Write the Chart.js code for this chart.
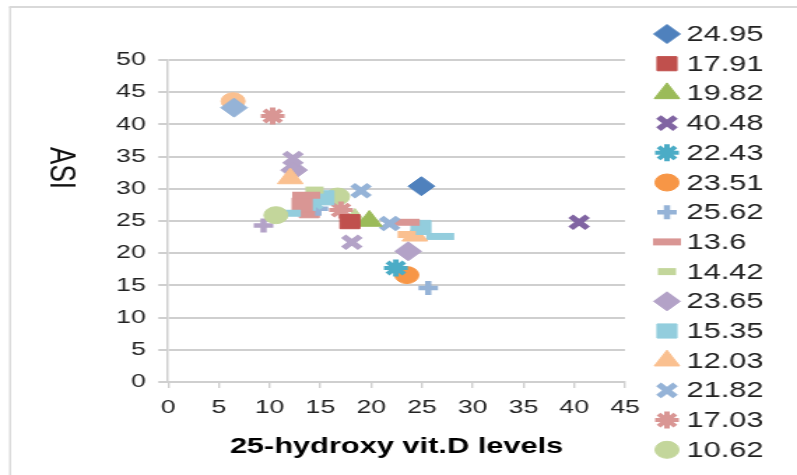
<!DOCTYPE html>
<html><head><meta charset="utf-8">
<script src="https://cdn.jsdelivr.net/npm/chart.js@4.4.1/dist/chart.umd.min.js"></script>
<style>
html,body{margin:0;padding:0;background:#fff;overflow:hidden;width:797px;height:475px;}
#wrap{position:absolute;left:0;top:0;width:570px;height:475px;transform:scaleX(1.39825);transform-origin:0 0;}
</style></head><body>
<div id="wrap"><canvas id="c"></canvas></div>
<script>
// Series numbers (Excel series order), their names, and their single (x, y) point
const seriesNo = [1,2,3,4,5,6,7,8,9,10,11,12,13,14,15,16,17,18,19,20,21,22,23,24,25,26,28,29,30,31,32,33,35,38,40];
const seriesNames = ['24.95','17.91','19.82','40.48','22.43','23.51','25.62','13.6','14.42','23.65','15.35','12.03','21.82','17.03','10.62',
  '9.4','11.7','23.5','6.5','13.2','18.4','12.3','14.3','6.4','14.8','23.4','12.4','24.9','24.3','19','10.3','16.7','26.8','13.9','18.1'];
const seriesX = [24.95,17.91,19.82,40.48,22.43,23.51,25.62,13.6,14.42,23.65,15.35,12.03,21.82,17.03,10.62,
  9.4,11.7,23.5,6.5,13.2,18.4,12.3,14.3,6.4,14.8,23.4,12.4,24.9,24.3,19.0,10.3,16.7,26.8,13.9,18.1];
const seriesY = [30.4,24.9,25.0,24.8,17.7,16.6,14.6,29.0,29.8,20.3,28.6,31.6,24.6,26.7,25.9,
  24.3,26.2,22.9,42.6,27.5,25.3,34.7,27.9,43.6,26.9,24.8,32.9,24.0,22.7,29.7,41.3,28.8,22.6,26.6,21.7];
const legendCount = 15;
const xTickValues = [0,5,10,15,20,25,30,35,40,45];
const yTickValues = [0,5,10,15,20,25,30,35,40,45,50];
const xTitle = '25-hydroxy vit.D levels';
const yTitle = 'ASI';

// Excel default style cycles
const baseColors = ['#4F81BD','#C0504D','#9BBB59','#8064A2','#4BACC6','#F79646'];
const lightColors = ['#95B3D7','#D99694','#C3D69B','#B3A2C7','#93CDDD','#FAC090'];
const markerCycle = [
  {pointStyle:'rectRot', r:9.5, bw:1},
  {pointStyle:'rect', r:10, bw:1},
  {pointStyle:'triangle', r:10.5, bw:1},
  {pointStyle:'crossRot', r:8.5, bw:5},
  {pointStyle:'star', r:8.5, bw:4},
  {pointStyle:'circle', r:8.5, bw:1},
  {pointStyle:'cross', r:7, bw:4.5},
  {pointStyle:'line', r:10, bw:7},
  {pointStyle:'line', r:6.5, bw:7}
];

const datasets = seriesNo.map((n, i) => {
  const m = markerCycle[(n - 1) % 9];
  const col = n <= 6 ? baseColors[(n - 1) % 6] : lightColors[(n - 1) % 6];
  return {
    label: seriesNames[i],
    data: [{x: seriesX[i], y: seriesY[i]}],
    showLine: false,
    pointStyle: m.pointStyle,
    pointRadius: m.r,
    pointHoverRadius: m.r,
    pointBorderWidth: m.bw,
    pointBackgroundColor: col,
    pointBorderColor: col,
    backgroundColor: col,
    borderColor: col,
    clip: false
  };
});

const decor = {
  id: 'decor',
  afterDraw(chart) {
    const ctx = chart.ctx;
    ctx.save();
    // outer chart frame
    ctx.strokeStyle = '#D9D9D9';
    ctx.lineWidth = 1.4;
    ctx.beginPath(); ctx.moveTo(7.2, 475); ctx.lineTo(7.2, 7); ctx.stroke();
    ctx.lineWidth = 2;
    ctx.beginPath(); ctx.moveTo(6.5, 7); ctx.lineTo(570, 7); ctx.stroke();
    // y title rotated clockwise
    ctx.save();
    ctx.translate(43, 168);
    ctx.rotate(Math.PI / 2);
    ctx.font = '26px "Liberation Sans", Arial, sans-serif';
    ctx.fillStyle = '#111';
    ctx.textAlign = 'center';
    ctx.textBaseline = 'middle';
    ctx.fillText(yTitle, 0, 0);
    ctx.restore();
    // legend
    const ds = chart.data.datasets;
    for (let i = 0; i < legendCount; i++) {
      const d = ds[i];
      const y = 34 + i * 29.7;
      ctx.fillStyle = d.pointBackgroundColor;
      ctx.strokeStyle = d.pointBorderColor;
      ctx.lineWidth = d.pointBorderWidth;
      if (Chart.helpers && Chart.helpers.drawPoint) {
        Chart.helpers.drawPoint(ctx, {pointStyle: d.pointStyle, radius: d.pointRadius, borderWidth: d.pointBorderWidth, rotation: 0}, 477, y);
      } else {
        ctx.beginPath(); ctx.arc(477, y, 8, 0, Math.PI * 2); ctx.fill();
      }
      ctx.font = '22px "Liberation Sans", Arial, sans-serif';
      ctx.fillStyle = '#222';
      ctx.textAlign = 'left';
      ctx.textBaseline = 'middle';
      ctx.fillText(d.label, 491, y + 1);
    }
    ctx.restore();
  }
};

const gridCol = '#CFCFCF';
new Chart(document.getElementById('c'), {
  type: 'scatter',
  data: { datasets },
  options: {
    responsive: true,
    maintainAspectRatio: false,
    animation: false,
    layout: { padding: { left: 0, right: 123, top: 60, bottom: 0 } },
    plugins: { legend: { display: false }, tooltip: { enabled: false } },
    scales: {
      x: {
        type: 'linear', position: 'bottom', min: 0, max: 45,
        afterBuildTicks(s) { s.ticks = xTickValues.map(v => ({value: v})); },
        ticks: { autoSkip: false, maxRotation: 0, padding: 8, color: '#222',
          font: { family: '"Liberation Sans", Arial, sans-serif', size: 19 } },
        grid: { drawOnChartArea: false, drawTicks: true, tickLength: 6, color: gridCol, lineWidth: 1.4 },
        border: { display: true, color: gridCol, width: 2 },
        title: { display: true, text: xTitle, color: '#000',
          font: { family: '"Liberation Sans", Arial, sans-serif', size: 22, weight: 'bold' },
          padding: { top: 0, bottom: 15 } },
        afterFit(s) { s.height = 93; }
      },
      y: {
        type: 'linear', min: 0, max: 50,
        afterBuildTicks(s) { s.ticks = yTickValues.map(v => ({value: v})); },
        ticks: { autoSkip: false, padding: 9, color: '#222',
          font: { family: '"Liberation Sans", Arial, sans-serif', size: 19 } },
        grid: { color: gridCol, lineWidth: 2, tickLength: 7 },
        border: { display: true, color: gridCol, width: 1.5 },
        afterFit(s) { s.width = 120.2; }
      }
    }
  },
  plugins: [decor]
});
</script>
</body></html>
